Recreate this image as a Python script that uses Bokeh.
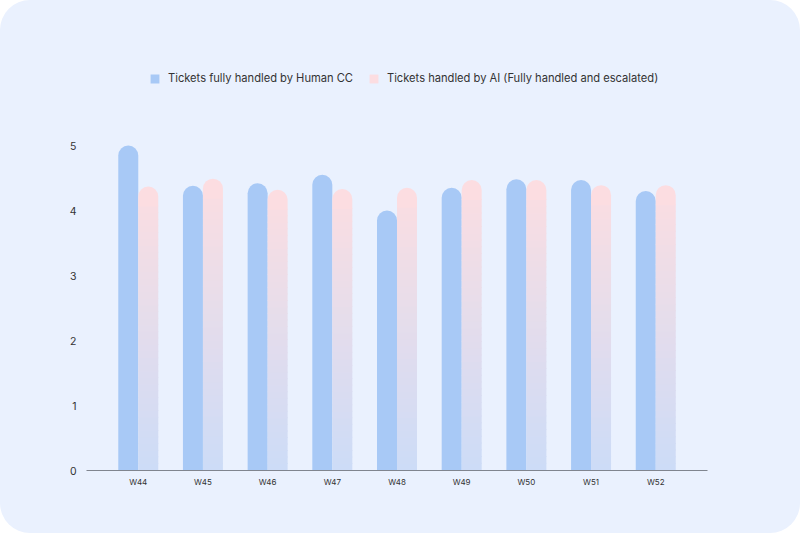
from bokeh.plotting import figure
from bokeh.models import (ColumnDataSource, FactorRange, Range1d, FixedTicker,
                          Legend, LegendItem)
from bokeh.transform import dodge
from bokeh.embed import file_html
from bokeh.resources import INLINE

weeks = ["W44", "W45", "W46", "W47", "W48", "W49", "W50", "W51", "W52"]
human_cc = [5.0, 4.38, 4.42, 4.55, 4.0, 4.35, 4.48, 4.47, 4.30]
ai_handled = [4.37, 4.49, 4.32, 4.33, 4.35, 4.47, 4.47, 4.39, 4.39]
y_ticks = [0, 1, 2, 3, 4, 5]
legend_labels = ["Tickets fully handled by Human CC",
                 "Tickets handled by AI (Fully handled and escalated)"]

BG = "#eaf1fe"
BLUE = "#a8c9f6"
PINK = (252, 221, 225)
PALE = (204, 220, 247)
FONT = "Inter"

W, H = 800, 533
p = figure(width=W, height=H, output_backend="svg", toolbar_location=None,
           x_range=FactorRange(factors=weeks, range_padding=0.0667),
           y_range=Range1d(0, 430 / 65.0),
           min_border_left=86, min_border_right=93,
           min_border_bottom=63, min_border_top=40)
p.styles = {"position": "absolute", "left": "0px", "top": "0px",
            "border-radius": "30px", "overflow": "hidden",
            "background-color": BG}
p.background_fill_alpha = 0
p.border_fill_alpha = 0
p.outline_line_color = None
p.xgrid.grid_line_color = None
p.ygrid.grid_line_color = None

bw = 20 / 64.7
src_h = ColumnDataSource(dict(x=weeks, top=human_cc))
r_h = p.vbar(x=dodge("x", -bw / 2, range=p.x_range), top="top", bottom=0,
             width=bw, source=src_h, fill_color=BLUE, line_color=None,
             border_radius=(10, 10, 0, 0))

# gradient body for AI bars
cap = 20 / 65.0
N = 40
gx, gb, gt, gc = [], [], [], []
for w, v in zip(weeks, ai_handled):
    body = v - cap
    for i in range(N):
        b = body * i / N
        t = body * (i + 1) / N + 0.015
        f = (b + t) / 2 / v
        col = tuple(int(round(PALE[k] + (PINK[k] - PALE[k]) * f)) for k in range(3))
        gx.append(w); gb.append(b); gt.append(t)
        gc.append("#%02x%02x%02x" % col)
src_g = ColumnDataSource(dict(x=gx, bottom=gb, top=gt, color=gc))
p.vbar(x=dodge("x", bw / 2, range=p.x_range), top="top", bottom="bottom",
       width=bw, source=src_g, fill_color="color", line_color=None)

src_a = ColumnDataSource(dict(x=weeks, top=ai_handled,
                              bottom=[v - cap - 0.001 for v in ai_handled]))
r_a = p.vbar(x=dodge("x", bw / 2, range=p.x_range), top="top", bottom="bottom",
             width=bw, source=src_a, fill_color="#%02x%02x%02x" % PINK,
             line_color=None, border_radius=(10, 10, 0, 0))

# axes
p.yaxis.ticker = FixedTicker(ticks=y_ticks)
p.yaxis.axis_line_color = None
p.yaxis.major_tick_line_color = None
p.yaxis.major_tick_out = 0
p.yaxis.major_tick_in = 0
p.yaxis.minor_tick_line_color = None
p.yaxis.major_label_text_font = FONT
p.yaxis.major_label_text_font_size = "10.5px"
p.yaxis.major_label_text_color = "#333333"
p.yaxis.major_label_standoff = 10

p.xaxis.axis_line_color = "#80858f"
p.xaxis.axis_line_width = 1
p.xaxis.major_tick_line_color = None
p.xaxis.major_tick_out = 0
p.xaxis.major_tick_in = 0
p.xaxis.minor_tick_line_color = None
p.xaxis.major_label_text_font = FONT
p.xaxis.major_label_text_font_size = "8px"
p.xaxis.major_label_text_color = "#333333"
p.xaxis.major_label_standoff = 6

legend = Legend(items=[LegendItem(label=legend_labels[0], renderers=[r_h]),
                       LegendItem(label=legend_labels[1], renderers=[r_a])],
                orientation="horizontal", location=(63, 382),
                padding=0, margin=0, spacing=15, label_standoff=8,
                glyph_width=11, glyph_height=11, label_height=20,
                label_text_font=FONT, label_text_font_size="11.15px",
                label_text_color="#333333",
                background_fill_alpha=0, border_line_color=None)
p.add_layout(legend, "center")

open("out.html", "w").write(file_html(p, INLINE))
